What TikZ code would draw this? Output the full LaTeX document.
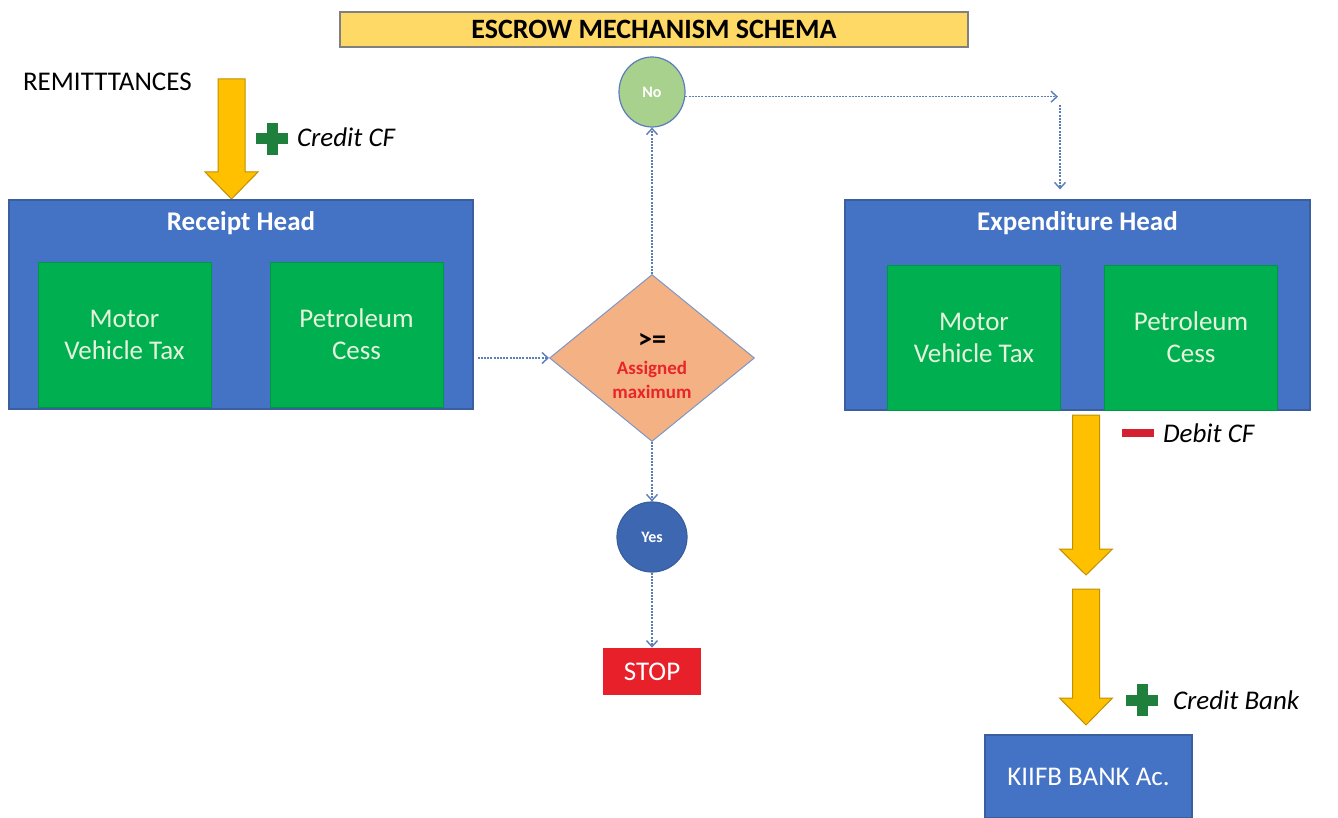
\documentclass[tikz,border=0pt]{standalone}
\usepackage{fontspec}
\setmainfont{Carlito}
\usetikzlibrary{shapes.geometric,arrows.meta}

\definecolor{headblue}{HTML}{4472C4}
\definecolor{headline}{HTML}{3A5E9E}
\definecolor{taxgreen}{HTML}{00B050}
\definecolor{taxtext}{HTML}{E6F2DC}
\definecolor{barfill}{HTML}{FFD966}
\definecolor{arrowfill}{HTML}{FFC000}
\definecolor{arrowline}{HTML}{BF9000}
\definecolor{checkfill}{HTML}{F4B183}
\definecolor{flowblue}{HTML}{5B7DB8}
\definecolor{nofill}{HTML}{A9D18E}
\definecolor{stopred}{HTML}{E8202A}
\definecolor{plusgreen}{HTML}{1F7F3D}
\definecolor{minusred}{HTML}{D42030}
\definecolor{maxred}{HTML}{E8252A}

% fat yellow arrow: x, top, start of head, tip
\newcommand{\fatarrow}[4]{%
  \filldraw[fatarrow] ({#1-13.5},#2) -- ({#1+13.5},#2) -- ({#1+13.5},#3) -- ({#1+26.5},#3)
    -- (#1,#4) -- ({#1-26.5},#3) -- ({#1-13.5},#3) -- cycle;}
% plus sign at x, y
\newcommand{\plussign}[2]{%
  \fill[plusgreen] ({#1-16},{#2-5.5}) rectangle ({#1+16},{#2+5.5});
  \fill[plusgreen] ({#1-5.5},{#2-16}) rectangle ({#1+5.5},{#2+16});}

\begin{document}
\begin{tikzpicture}[x=0.5pt,y=-0.5pt,
    headbox/.style={rectangle,draw=headline,line width=0.6pt,fill=headblue},
    headtext/.style={text=white,font=\fontsize{13.5}{16}\selectfont\bfseries},
    taxbox/.style={rectangle,draw=taxgreen!85!black,line width=0.3pt,fill=taxgreen,
      minimum width=86.5pt,minimum height=72.5pt,align=center,text=taxtext,
      font=\fontsize{13.5}{16}\selectfont},
    note/.style={anchor=west,font=\fontsize{13.5}{16}\selectfont\itshape},
    fatarrow/.style={fill=arrowfill,draw=arrowline,line width=0.5pt},
    flow/.style={draw=flowblue,line width=0.7pt,dash pattern=on 1pt off 0.6pt,
      -{Straight Barb[length=3pt,width=5.5pt]}}]
  \useasboundingbox (0,0) rectangle (1338,818);

  % title
  \node[rectangle,draw=gray,line width=0.6pt,fill=barfill,minimum width=314pt,minimum height=17.5pt,
    font=\fontsize{14}{16}\selectfont\bfseries] (title) at (654,29.5) {ESCROW MECHANISM SCHEMA};

  % receipt side
  \node[anchor=west,font=\fontsize{13.5}{16}\selectfont] (remit) at (16,82) {REMITTTANCES};
  \fatarrow{231.5}{79}{172}{199}
  \plussign{272}{139}
  \node[note] (creditcf) at (290,137) {Credit CF};

  \node[headbox,minimum width=232pt,minimum height=104.5pt] (receipt) at (241,304.5) {};
  \node[headtext] (receipttitle) at (241,223) {Receipt Head};
  \node[taxbox] (rmotor) at (124.5,334.5) {Motor\\Vehicle Tax};
  \node[taxbox] (rpetrol) at (356.5,334.5) {Petroleum\\Cess};

  % check
  \node[diamond,draw=flowblue!80,line width=0.5pt,fill=checkfill,inner sep=0pt,
    minimum width=102.5pt,minimum height=83.5pt] (check) at (652,358) {};
  \node[align=center,font=\bfseries] (checktext) at (652,366)
    {\fontsize{14}{12}\selectfont >=\\[1pt]
     \textcolor{maxred}{\fontsize{9.5}{12}\selectfont Assigned}\\
     \textcolor{maxred}{\fontsize{9.5}{12}\selectfont maximum}};
  \node[ellipse,draw=flowblue,line width=0.6pt,fill=nofill,minimum width=33pt,minimum height=35pt,
    inner sep=0pt,text=white,font=\fontsize{8}{9}\selectfont\bfseries] (no) at (652,92) {No};
  \node[circle,draw=headline,line width=0.6pt,fill=headblue!90!black,minimum size=35pt,
    inner sep=0pt,text=white,font=\fontsize{8}{9}\selectfont\bfseries] (yes) at (652,537) {Yes};
  \node[rectangle,fill=stopred,minimum width=49pt,minimum height=23.5pt,text=white,
    font=\fontsize{13.5}{16}\selectfont] (stop) at (652,671.5) {STOP};

  % expenditure side
  \node[headbox,minimum width=232.5pt,minimum height=105pt] (expend) at (1077.5,305) {};
  \node[headtext] (expendtitle) at (1077.5,223) {Expenditure Head};
  \node[taxbox] (emotor) at (974,337.5) {Motor\\Vehicle Tax};
  \node[taxbox] (epetrol) at (1191,337.5) {Petroleum\\Cess};

  \fatarrow{1086}{415}{549}{575}
  \fill[minusred] (1122,429) rectangle (1154,437);
  \node[note] (debitcf) at (1156,433) {Debit CF};
  \fatarrow{1086}{589}{698}{725}
  \plussign{1142}{700}
  \node[note] (creditbank) at (1166,700) {Credit Bank};

  \node[rectangle,draw=headline,line width=0.6pt,fill=headblue,minimum width=103.5pt,minimum height=41.5pt,
    text=white,font=\fontsize{13.5}{16}\selectfont] (kiifb) at (1088.5,776.5) {KIIFB BANK Ac.};

  % dotted flow
  \coordinate (turn) at (1058,97);
  \coordinate (drop) at (1060,105);
  \draw[flow,shorten <=2pt] (receipt.east |- check.west) -- (check.west);
  \draw[flow] (check.north) -- (no.south);
  \draw[flow] (check.south) -- (yes.north);
  \draw[flow] (yes.south) -- (stop.north);
  \draw[flow] (no.-8) -- (no.-8 -| turn);
  \draw[flow,shorten >=5pt] (drop) -- (drop |- expend.north);
\end{tikzpicture}
\end{document}
